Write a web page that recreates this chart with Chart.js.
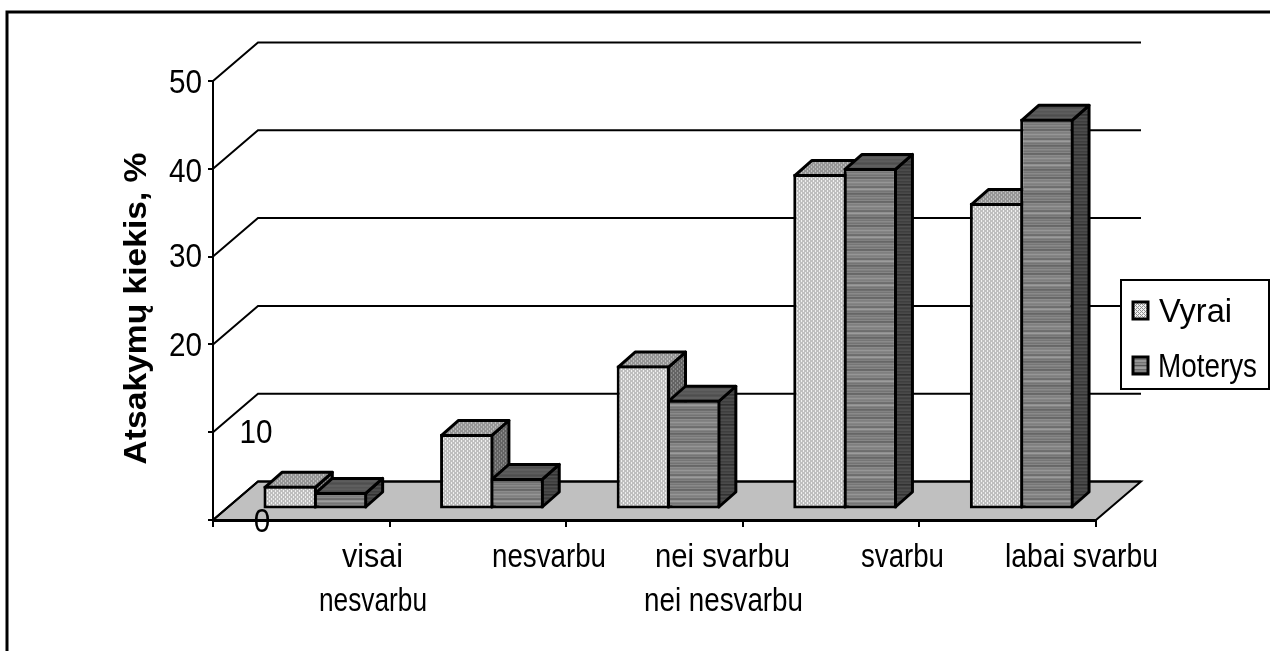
<!DOCTYPE html>
<html>
<head>
<meta charset="utf-8">
<title>Atsakymų kiekis</title>
<script src="https://cdn.jsdelivr.net/npm/chart.js@4"></script>
<style>
html, body { margin: 0; padding: 0; background: #fff; overflow: hidden; }
canvas { display: block; }
</style>
</head>
<body>
<canvas id="chart" width="1270" height="651"></canvas>
<script>
//answers per category, percent
var categories = [['visai', 'nesvarbu'], 'nesvarbu', ['nei svarbu', 'nei nesvarbu'], 'svarbu', 'labai svarbu'];
var vyrai = [2.7, 8.6, 16.4, 38.2, 34.9];
var moterys = [2.0, 3.6, 12.5, 38.9, 44.5];
var seriesNames = ['Vyrai', 'Moterys'];
var valueTicks = [50, 40, 30, 20, 10, 0];
var axisTitle = 'Atsakymų kiekis, %';

var FONT = '"Liberation Sans", Arial, sans-serif';
//how far the back wall sits behind the axes
var WALL = { x: 45, y: -38.5 };
//how far the bars sit behind the axes, and how deep they are
var BAR_SHIFT = { x: 14, y: -10.5 };
var BAR_DEPTH = { x: 17, y: -15 };
var BAR_LINE = 3;

//where the tick label texts go: [left or centre x, baseline, align]
var TICK_SPOTS = {
	50: [202, 93, 'right'],
	40: [202, 182, 'right'],
	30: [202, 267, 'right'],
	20: [202, 356, 'right'],
	10: [256, 443, 'center'],
	0: [262, 532, 'center']
};
//left and right end of every category text line, the text is squeezed to fit
var LINE_SPANS = [
	[[342, 403], [319, 427]],
	[[492, 606]],
	[[655, 790], [644, 803]],
	[[861, 944]],
	[[1005, 1158]]
];
var LINE_BASELINES = [567, 611];

//small repeating fills for the bar faces
function dither(light, dark) {
	var c = document.createElement('canvas');
	c.width = c.height = 4;
	var g = c.getContext('2d');
	g.fillStyle = light;
	g.fillRect(0, 0, 4, 4);
	g.fillStyle = dark;
	for (var y = 0; y < 4; y++) {
		for (var x = 0; x < 4; x++) {
			if ((x + y) % 4 == 0 || (x - y + 8) % 4 == 2) g.fillRect(x, y, 1, 1);
		}
	}
	return g.createPattern(c, 'repeat');
}
function stripes(bands) {
	var c = document.createElement('canvas');
	c.width = 1;
	c.height = bands.length;
	var g = c.getContext('2d');
	bands.forEach(function(band, i) {
		g.fillStyle = band;
		g.fillRect(0, i, 1, 1);
	});
	return g.createPattern(c, 'repeat');
}

var faces = [
	{
		front: dither('#f0f0f0', '#8e8e8e'),
		top: dither('#c0c0c0', '#6a6a6a'),
		side: dither('#8c8c8c', '#3c3c3c')
	},
	{
		front: stripes(['#969696', '#969696', '#747474', '#8a8a8a', '#8a8a8a', '#565656', '#848484', '#9c9c9c', '#9c9c9c', '#6a6a6a', '#808080', '#808080', '#4c4c4c', '#909090', '#767676', '#767676', '#9e9e9e', '#606060', '#868686', '#868686', '#484848', '#8c8c8c', '#8c8c8c', '#727272']),
		top: stripes(['#5e5e5e', '#5e5e5e', '#4c4c4c', '#666666', '#545454', '#545454', '#484848', '#606060']),
		side: stripes(['#4c4c4c', '#4c4c4c', '#303030', '#585858', '#3c3c3c', '#282828', '#505050', '#505050', '#343434', '#444444'])
	}
];

function text(ctx, str, x, y, size, squeeze, align) {
	ctx.save();
	ctx.translate(x, y);
	ctx.scale(squeeze, 1);
	ctx.font = size + 'px ' + FONT;
	ctx.fillStyle = '#000';
	ctx.textAlign = align;
	ctx.textBaseline = 'alphabetic';
	ctx.fillText(str, 0, 0);
	ctx.restore();
}

//text squeezed to sit between two x positions
function fitText(ctx, str, left, right, y, size) {
	ctx.save();
	ctx.font = size + 'px ' + FONT;
	var w = ctx.measureText(str).width;
	ctx.restore();
	text(ctx, str, left, y, size, (right - left) / w, 'left');
}

function poly(ctx, points, fill) {
	ctx.beginPath();
	points.forEach(function(p, i) {
		if (i == 0) ctx.moveTo(p[0], p[1]);
		else ctx.lineTo(p[0], p[1]);
	});
	ctx.closePath();
	ctx.fillStyle = fill;
	ctx.fill();
	ctx.stroke();
}

//floor, back wall lines, outer frame
var wallsPlugin = {
	id: 'walls',
	beforeDraw: function(chart) {
		var ctx = chart.ctx, a = chart.chartArea, yScale = chart.scales.y;
		ctx.save();
		ctx.fillStyle = '#fff';
		ctx.fillRect(0, 0, chart.width, chart.height);
		ctx.strokeStyle = '#000';
		ctx.lineWidth = 3;
		ctx.strokeRect(7, 12, 1400, 800);

		ctx.lineWidth = 2;
		poly(ctx, [[a.left, a.bottom], [a.left + WALL.x, a.bottom + WALL.y], [a.right + WALL.x, a.bottom + WALL.y], [a.right, a.bottom]], '#c0c0c0');

		valueTicks.forEach(function(v) {
			var y = yScale.getPixelForValue(v);
			ctx.beginPath();
			ctx.moveTo(a.left, y);
			ctx.lineTo(a.left + WALL.x, y + WALL.y);
			ctx.lineTo(a.right + WALL.x, y + WALL.y);
			ctx.stroke();
		});
		ctx.restore();
	}
};

//tops and right sides of the bars, everything in here is shifted back from the axes
var depthPlugin = {
	id: 'depth',
	beforeDatasetsDraw: function(chart) {
		var ctx = chart.ctx;
		var inset = BAR_LINE / 2;
		ctx.save();
		ctx.translate(BAR_SHIFT.x, BAR_SHIFT.y);
		ctx.strokeStyle = '#000';
		ctx.lineWidth = BAR_LINE;
		ctx.lineJoin = 'round';
		categories.forEach(function(c, i) {
			chart.data.datasets.forEach(function(ds, d) {
				var bar = chart.getDatasetMeta(d).data[i];
				var p = bar.getProps(['x', 'y', 'base', 'width'], true);
				//the stroke runs along the middle of the bar's own border
				var l = p.x - p.width / 2 + inset, r = p.x + p.width / 2 - inset;
				var t = p.y + inset, b = p.base - inset;
				poly(ctx, [[r, t], [r + BAR_DEPTH.x, t + BAR_DEPTH.y], [r + BAR_DEPTH.x, b + BAR_DEPTH.y], [r, b]], faces[d].side);
				poly(ctx, [[l, t], [l + BAR_DEPTH.x, t + BAR_DEPTH.y], [r + BAR_DEPTH.x, t + BAR_DEPTH.y], [r, t]], faces[d].top);
			});
		});
	},
	afterDatasetsDraw: function(chart) {
		chart.ctx.restore();
	}
};

//axis texts and the legend box
var labelsPlugin = {
	id: 'labels',
	afterDraw: function(chart) {
		var ctx = chart.ctx;

		valueTicks.forEach(function(v) {
			var spot = TICK_SPOTS[v];
			text(ctx, String(v), spot[0], spot[1], 33, 0.9, spot[2]);
		});

		chart.data.labels.forEach(function(label, i) {
			[].concat(label).forEach(function(line, n) {
				var span = LINE_SPANS[i][n];
				fitText(ctx, line, span[0], span[1], LINE_BASELINES[n], 33);
			});
		});

		ctx.save();
		ctx.translate(146, 308.5);
		ctx.rotate(-Math.PI / 2);
		ctx.scale(1.05, 1);
		ctx.font = 'bold 32px ' + FONT;
		ctx.fillStyle = '#000';
		ctx.textAlign = 'center';
		ctx.fillText(axisTitle, 0, 0);
		ctx.restore();

		ctx.save();
		ctx.fillStyle = '#fff';
		ctx.strokeStyle = '#000';
		ctx.lineWidth = 2;
		ctx.fillRect(1121, 280, 148, 109);
		ctx.strokeRect(1121, 280, 148, 109);
		chart.data.datasets.forEach(function(ds, d) {
			var top = d == 0 ? 302 : 357;
			ctx.lineWidth = 3;
			ctx.fillStyle = faces[d].front;
			ctx.fillRect(1133, top, 15, 17);
			ctx.strokeRect(1133, top, 15, 17);
			if (d == 0) fitText(ctx, ds.label, 1159, 1232, 322, 33);
			else fitText(ctx, ds.label, 1158, 1257, 377, 33);
		});
		ctx.restore();
	}
};

var chart = new Chart(document.getElementById('chart').getContext('2d'), {
	type: 'bar',
	data: {
		labels: categories,
		datasets: [
			{ label: seriesNames[0], data: vyrai, backgroundColor: faces[0].front },
			{ label: seriesNames[1], data: moterys, backgroundColor: faces[1].front }
		]
	},
	options: {
		responsive: false,
		animation: false,
		events: [],
		layout: { padding: { left: 0, top: 81, right: 174, bottom: 0 } },
		datasets: {
			bar: {
				clip: false,
				borderColor: '#000',
				borderWidth: BAR_LINE,
				borderSkipped: false,
				categoryPercentage: 0.57,
				//neighbouring bars share one middle line
				barPercentage: 1.06
			}
		},
		plugins: { legend: { display: false }, tooltip: { enabled: false }, title: { display: false } },
		scales: {
			x: {
				ticks: { display: false },
				grid: { drawOnChartArea: false, color: '#000', lineWidth: 2, tickLength: 7 },
				border: { color: '#000', width: 3 },
				afterFit: function(scale) { scale.height = 131; }
			},
			y: {
				min: 0,
				max: 50,
				ticks: { display: false, stepSize: 10 },
				grid: { drawOnChartArea: false, color: '#000', lineWidth: 2, tickLength: 5 },
				border: { color: '#000', width: 2 },
				afterFit: function(scale) { scale.width = 213; }
			}
		}
	},
	plugins: [wallsPlugin, depthPlugin, labelsPlugin]
});
</script>
</body>
</html>
